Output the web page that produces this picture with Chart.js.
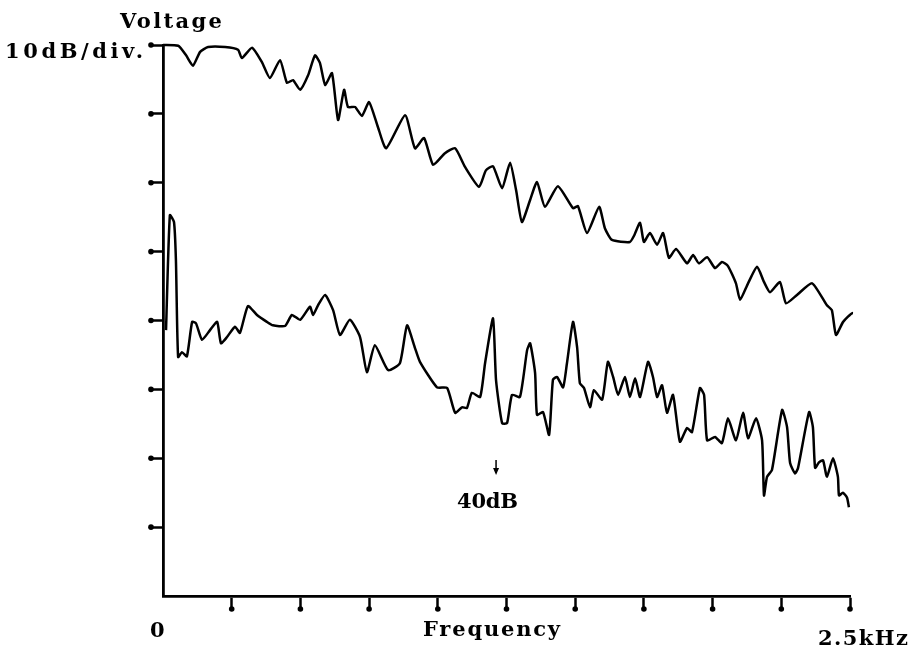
<!DOCTYPE html>
<html>
<head>
<title>Voltage spectrum</title>
<script src="https://cdn.jsdelivr.net/npm/chart.js@4.4.1/dist/chart.umd.min.js"></script>
<style>
	body { margin: 0; background: #fff; }
</style>
</head>
<body>
<canvas id="myChart" width="914" height="658"></canvas>
<script>
	// upper trace (Hz, dB)
	const upperHz = [0, 55, 84, 109, 135, 164, 226, 273, 287, 324, 360, 389, 426, 451, 473, 499, 528, 553, 571, 590,
		615, 637, 659, 673, 699, 724, 750, 782, 812, 881, 917, 950, 983, 1026, 1063, 1099, 1150, 1175, 1201, 1234,
		1263, 1285, 1306, 1336, 1361, 1390, 1437, 1492, 1510, 1543, 1587, 1608, 1634, 1699, 1714, 1736, 1750, 1772, 1798, 1820,
		1841, 1867, 1907, 1929, 1950, 1980, 2009, 2034, 2056, 2085, 2100, 2129, 2162, 2187, 2209, 2245, 2267, 2307, 2362, 2416,
		2434, 2449, 2475, 2511, 2547];
	const upperDb = [0, -0.1, -1.5, -3.0, -1.0, -0.3, -0.3, -0.7, -1.9, -0.4, -2.5, -4.8, -2.2, -5.5, -5.1, -6.5, -4.4, -1.5, -2.6, -5.8,
		-4.1, -10.9, -6.5, -9.0, -9.0, -10.3, -8.3, -11.9, -15.0, -10.2, -15.0, -13.5, -17.4, -15.7, -15.0, -17.7, -20.6, -18.2, -17.6, -20.8,
		-17.1, -21.1, -25.7, -22.5, -19.9, -23.5, -20.5, -23.7, -23.4, -27.3, -23.5, -26.6, -28.3, -28.6, -27.7, -25.8, -28.6, -27.3, -29.0, -27.3,
		-30.9, -29.6, -31.7, -30.5, -31.7, -30.8, -32.4, -31.5, -32.1, -34.6, -37.0, -34.6, -32.2, -34.4, -35.9, -34.4, -37.5, -36.3, -34.6, -37.8,
		-38.5, -42.1, -40.2, -38.9, -40.4];

	// lower trace (Hz, dB)
	const lowerHz = [11, 25, 40, 47, 55, 69, 87, 106, 120, 142, 171, 197, 211, 233, 262, 280, 309, 342, 378, 400,
		444, 469, 499, 535, 546, 564, 590, 619, 644, 680, 717, 742, 771, 819, 862, 888, 917, 935, 997, 1034,
		1063, 1088, 1106, 1124, 1154, 1172, 1201, 1212, 1234, 1252, 1270, 1299, 1325, 1336, 1354, 1361, 1383, 1405, 1419, 1434,
		1456, 1470, 1492, 1507, 1517, 1532, 1554, 1568, 1598, 1619, 1638, 1656, 1681, 1699, 1718, 1736, 1765, 1783, 1798, 1816,
		1834, 1856, 1881, 1907, 1925, 1954, 1969, 1980, 2009, 2034, 2056, 2085, 2111, 2129, 2158, 2180, 2187, 2198, 2216, 2253,
		2271, 2282, 2300, 2311, 2351, 2365, 2373, 2387, 2402, 2416, 2438, 2456, 2460, 2474, 2489, 2496];
	const lowerDb = [-41.4, -24.7, -25.7, -31.2, -45.3, -44.6, -45.2, -40.2, -40.4, -42.8, -41.4, -40.2, -43.3, -42.4, -40.9, -41.8, -37.9, -39.2, -40.2, -40.7,
		-40.8, -39.2, -39.9, -38.0, -39.2, -37.8, -36.3, -38.5, -42.1, -39.9, -42.4, -47.5, -43.6, -47.2, -46.2, -40.7, -44.0, -46.0, -49.7, -49.8,
		-53.4, -52.6, -52.7, -50.5, -51.1, -46.2, -39.7, -48.7, -54.9, -54.9, -50.8, -51.1, -44.3, -43.3, -47.6, -53.7, -53.3, -56.6, -48.6, -48.2,
		-49.7, -46.2, -40.2, -43.9, -49.1, -49.8, -52.6, -50.1, -51.5, -46.0, -48.2, -50.8, -48.2, -51.1, -48.4, -51.1, -46.0, -48.2, -51.1, -49.4,
		-53.4, -50.8, -57.6, -55.6, -56.2, -49.8, -50.8, -57.4, -56.9, -57.8, -54.2, -57.4, -53.4, -57.1, -54.2, -57.4, -65.4, -62.7, -61.7, -53.0,
		-55.5, -60.7, -62.2, -61.4, -53.3, -55.5, -61.4, -60.6, -60.3, -62.7, -60.0, -62.7, -65.4, -65.0, -65.7, -67.1];

	const freqTicks = [0, 250, 500, 750, 1000, 1250, 1500, 1750, 2000, 2250, 2500];
	const dbTicks = [0, -10, -20, -30, -40, -50, -60, -70, -80];

	const toPoints = (xs, ys) => xs.map((x, i) => ({ x: x, y: ys[i] }));

	const textFont = 'bold 21px "DejaVu Serif", "Liberation Serif", serif';

	// labels and tick end dots
	const labelsPlugin = {
		id: 'labels',
		afterDraw(chart) {
			const ctx = chart.ctx;
			const xs = chart.scales.x, ys = chart.scales.y;
			ctx.save();
			ctx.fillStyle = '#000';
			ctx.strokeStyle = '#000';

			// dots at ends of tick marks
			dbTicks.slice(0, 8).forEach(v => {
				ctx.beginPath();
				ctx.arc(xs.left - 12, ys.getPixelForValue(v), 2.8, 0, Math.PI * 2);
				ctx.fill();
			});
			freqTicks.slice(1).forEach(v => {
				ctx.beginPath();
				ctx.arc(xs.getPixelForValue(v), ys.bottom + 13, 2.8, 0, Math.PI * 2);
				ctx.fill();
			});

			ctx.font = textFont;
			ctx.textBaseline = 'alphabetic';
			ctx.textAlign = 'left';

			// typewriter look: spread letters to the measured width, left edge x
			const put = (t, x, y, width) => {
				ctx.letterSpacing = '0px';
				const w = ctx.measureText(t).width;
				const sp = t.length > 1 ? (width - w) / (t.length - 1) : 0;
				ctx.letterSpacing = sp.toFixed(2) + 'px';
				ctx.fillText(t, x, y);
			};
			put('Voltage', 120, 28, 102);
			put('10dB/div.', 5, 58, 138);
			put('0', xs.getPixelForValue(0) - 13, 637, 12);
			put('Frequency', 423, 636, 137);
			put('2.5kHz', 818, 645, 90);

			// 40dB marker
			const ax = xs.getPixelForValue(1212);
			put('40dB', ax - 39, 508, 61);
			ctx.lineWidth = 1.5;
			ctx.beginPath();
			ctx.moveTo(ax, 460);
			ctx.lineTo(ax, 473);
			ctx.stroke();
			ctx.beginPath();
			ctx.moveTo(ax - 3, 468);
			ctx.lineTo(ax + 3, 468);
			ctx.lineTo(ax, 475);
			ctx.closePath();
			ctx.fill();
			ctx.restore();
		}
	};

	const lineStyle = {
		borderColor: '#000',
		borderWidth: 2.5,
		pointRadius: 0,
		tension: 0.18,
		borderJoinStyle: 'round',
		clip: false,
		showLine: true
	};

	let ctx = document.getElementById('myChart').getContext('2d');
	let myChart = new Chart(ctx, {
		type: 'scatter',
		data: {
			datasets: [
				Object.assign({ label: 'upper', data: toPoints(upperHz, upperDb) }, lineStyle),
				Object.assign({ label: 'lower', data: toPoints(lowerHz, lowerDb) }, lineStyle)
			]
		},
		options: {
			responsive: false,
			animation: false,
			devicePixelRatio: 1,
			layout: { padding: { left: 151, top: 45, right: 64, bottom: 50 } },
			plugins: { legend: { display: false }, tooltip: { enabled: false } },
			scales: {
				x: {
					type: 'linear',
					min: 0,
					max: 2500,
					afterBuildTicks: s => { s.ticks = freqTicks.map(v => ({ value: v })); },
					ticks: { display: false },
					grid: {
						drawOnChartArea: false,
						tickLength: 12,
						tickWidth: 2.5,
						tickColor: c => c.tick && c.tick.value === 0 ? 'rgba(0,0,0,0)' : '#000'
					},
					border: { color: '#000', width: 2.8 }
				},
				y: {
					type: 'linear',
					min: -80,
					max: 0,
					afterBuildTicks: s => { s.ticks = dbTicks.map(v => ({ value: v })); },
					ticks: { display: false },
					grid: {
						drawOnChartArea: false,
						tickLength: 12,
						tickWidth: 2.5,
						tickColor: c => c.tick && c.tick.value === -80 ? 'rgba(0,0,0,0)' : '#000'
					},
					border: { color: '#000', width: 2.8 }
				}
			}
		},
		plugins: [labelsPlugin]
	});
</script>
</body>
</html>
